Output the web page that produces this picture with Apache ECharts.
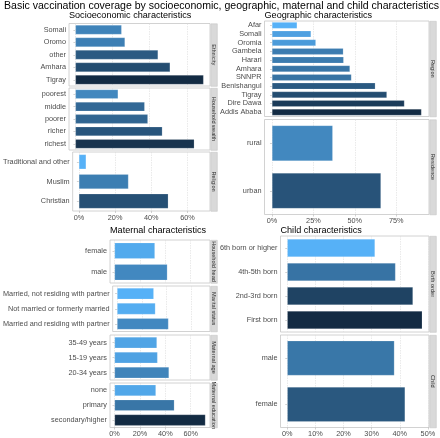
<!DOCTYPE html>
<html><head><meta charset="utf-8">
<script src="https://cdn.jsdelivr.net/npm/echarts@6/dist/echarts.min.js"></script>
<style>html,body{margin:0;padding:0;background:#fff}#c{width:440px;height:438px}</style>
</head><body><div id="c"></div>
<script>
// ---- data ----
const ethnicityCats = ['Somali','Oromo','other','Amhara','Tigray'];
const ethnicityVals = [24.9,26.7,44.5,51,69];
const wealthCats = ['poorest','middle','poorer','richer','richest'];
const wealthVals = [23,37.3,39,46.8,64];
const religionCats = ['Traditional and other','Muslim','Christian'];
const religionVals = [4,27.4,49.4];
const regionCats = ['Afar','Somali','Oromia','Gambela','Harari','Amhara','SNNPR','Benishangul','Tigray','Dire Dawa','Addis Ababa'];
const regionVals = [15.2,23.6,26.5,43.1,43.3,47.1,48,62.4,69.4,80,90.3];
const residenceCats = ['rural','urban'];
const residenceVals = [36.7,65.8];
const hheadCats = ['female','male'];
const hheadVals = [31.8,41.6];
const maritalCats = ['Married, not residing with partner','Not married or formerly married','Married and residing with partner'];
const maritalVals = [29.7,31,41.6];
const ageCats = ['35-49 years','15-19 years','20-34 years'];
const ageVals = [33.4,33.9,42.9];
const eduCats = ['none','primary','secondary/higher'];
const eduVals = [32.6,47.1,71.6];
const birthCats = ['6th born or higher','4th-5th born','2nd-3rd born','First born'];
const birthVals = [31.2,38.5,44.7,48];
const childCats = ['male','female'];
const childVals = [38.1,41.9];
const socioTicks = [0,20,40,60];
const geoTicks = [0,25,50,75];
const maternalTicks = [0,20,40,60];
const childTicks = [0,10,20,30,40,50];
const mainTitle = 'Basic vaccination coverage by socioeconomic, geographic, maternal and child characteristics';

// ---- colour ramp in Lab space (like ggplot's gradient) ----
function hex2rgb(h){return [1,3,5].map(i=>parseInt(h.substr(i,2),16)/255);}
function lin(c){return c<=0.04045?c/12.92:Math.pow((c+0.055)/1.055,2.4);}
function delin(c){return c<=0.0031308?12.92*c:1.055*Math.pow(c,1/2.4)-0.055;}
const WP=[0.95047,1,1.08883];
function rgb2lab(rgb){const [r,g,b]=rgb.map(lin);
  const X=(0.4124*r+0.3576*g+0.1805*b)/WP[0],Y=(0.2126*r+0.7152*g+0.0722*b)/WP[1],Z=(0.0193*r+0.1192*g+0.9505*b)/WP[2];
  const f=t=>t>0.008856?Math.cbrt(t):7.787*t+16/116;
  return [116*f(Y)-16,500*(f(X)-f(Y)),200*(f(Y)-f(Z))];}
function lab2hex(lab){const fy=(lab[0]+16)/116,fx=fy+lab[1]/500,fz=fy-lab[2]/200;
  const fi=t=>t*t*t>0.008856?t*t*t:(t-16/116)/7.787;
  const X=fi(fx)*WP[0],Y=fi(fy)*WP[1],Z=fi(fz)*WP[2];
  const r=3.2406*X-1.5372*Y-0.4986*Z,g=-0.9689*X+1.8758*Y+0.0415*Z,b=0.0557*X-0.2040*Y+1.0570*Z;
  return '#'+[r,g,b].map(c=>{c=Math.round(Math.max(0,Math.min(1,delin(c)))*255);return c.toString(16).padStart(2,'0');}).join('');}
function labRamp(a,b,n){const A=rgb2lab(hex2rgb(a)),B=rgb2lab(hex2rgb(b));const out=[];
  for(let i=0;i<n;i++){const t=i/(n-1);out.push(lab2hex(A.map((v,k)=>v+(B[k]-v)*t)));}return out;}
const RAMP = labRamp('#56B1F7','#132B43',21);

// ---- layout ----
const FONT = '"Liberation Sans", Arial, sans-serif';
const plots = [
  {title:'Socioeconomic characteristics', left:69, right:210, titleTop:10.5, ticks:socioTicks, panels:[
    {label:'Ethnicity', cats:ethnicityCats, vals:ethnicityVals, top:23.5, bottom:86},
    {label:'Household wealth', cats:wealthCats, vals:wealthVals, top:88, bottom:150},
    {label:'Religion', cats:religionCats, vals:religionVals, top:152, bottom:211}]},
  {title:'Geographic characteristics', left:264.5, right:429, titleTop:10.5, ticks:geoTicks, panels:[
    {label:'Region', cats:regionCats, vals:regionVals, top:21, bottom:116.5},
    {label:'Residence', cats:residenceCats, vals:residenceVals, top:119.5, bottom:214.5}]},
  {title:'Maternal characteristics', left:110, right:210, titleTop:225.5, ticks:maternalTicks, panels:[
    {label:'Household head', cats:hheadCats, vals:hheadVals, top:240, bottom:283},
    {label:'Marital status', cats:maritalCats, vals:maritalVals, top:286, bottom:331.5},
    {label:'Maternal age', cats:ageCats, vals:ageVals, top:335, bottom:380},
    {label:'Maternal education', cats:eduCats, vals:eduVals, top:383, bottom:427.5}]},
  {title:'Child characteristics', left:280.5, right:429, titleTop:225.5, ticks:childTicks, panels:[
    {label:'Birth order', cats:birthCats, vals:birthVals, top:236, bottom:332},
    {label:'Child', cats:childCats, vals:childVals, top:335, bottom:427.5}]}
];

const grid=[], xAxis=[], yAxis=[], series=[], visualMap=[], graphic=[];
const title=[{text:mainTitle, left:4, top:0.5, padding:0,
  textStyle:{fontFamily:FONT, fontSize:10.55, fontWeight:'normal', color:'#000'}}];
let gi = 0;
plots.forEach(p => {
  title.push({text:p.title, left:p.left, top:p.titleTop, padding:0,
    textStyle:{fontFamily:FONT, fontSize:9.1, fontWeight:'normal', color:'#000'}});
  const all = [].concat(...p.panels.map(q=>q.vals));
  const M = Math.max(...all), m = Math.min(...all);
  const sIdx = [];
  p.panels.forEach((q, k) => {
    const last = k === p.panels.length-1;
    grid.push({left:p.left, top:q.top, width:p.right-p.left, height:q.bottom-q.top,
      show:true, borderColor:'#c6c6c6', borderWidth:0.8, backgroundColor:'#fff', containLabel:false});
    xAxis.push({type:'value', gridIndex:gi, min:-0.05*M, max:1.05*M,
      axisLine:{show:false},
      axisTick:{show:last, length:2, lineStyle:{color:'#b3b3b3', width:0.6}, customValues:p.ticks},
      axisLabel:{show:last, customValues:p.ticks, formatter:v=>v+'%', fontFamily:FONT, fontSize:7.3, color:'#4d4d4d', margin:3},
      splitLine:{show:true, lineStyle:{color:'#dcdcdc', width:0.6, type:[1.5,1]}}});
    yAxis.push({type:'category', gridIndex:gi, data:q.cats, inverse:true,
      axisLine:{show:false},
      axisTick:{show:true, alignWithLabel:true, interval:0, length:2, lineStyle:{color:'#b3b3b3', width:0.6}},
      axisLabel:{interval:0, fontFamily:FONT, fontSize:7.3, color:'#4d4d4d', margin:3},
      splitLine:{show:false}});
    sIdx.push(series.length);
    series.push({type:'bar', xAxisIndex:gi, yAxisIndex:gi, barCategoryGap:'25%',
      data:q.vals.map((v,i)=>[v, q.cats[i]]), encode:{x:0, y:1},
      itemStyle:{borderColor:'rgba(255,255,255,0.35)', borderWidth:0.5}, silent:true});
    const sx = p.right + 0.5, sw = 6.5, h = q.bottom - q.top;
    graphic.push({type:'rect', left:sx, top:q.top, shape:{x:0,y:0,width:sw,height:h}, z:10,
      style:{fill:'#d9d9d9', stroke:'#c6c6c6', lineWidth:0.6}});
    graphic.push({type:'text', x:sx+sw/2, y:q.top+h/2, rotation:-Math.PI/2, z:11,
      style:{text:q.label, fontFamily:FONT, fontSize:5.6, fill:'#2b2b2b', textAlign:'center', textVerticalAlign:'middle'}});
    gi++;
  });
  visualMap.push({type:'continuous', show:false, seriesIndex:sIdx, dimension:0, min:m, max:M,
    inRange:{color:RAMP}});
});

const chart = echarts.init(document.getElementById('c'), null, {renderer:'canvas'});
chart.setOption({animation:false, backgroundColor:'#fff', title, grid, xAxis, yAxis, series, visualMap, graphic});
</script></body></html>
